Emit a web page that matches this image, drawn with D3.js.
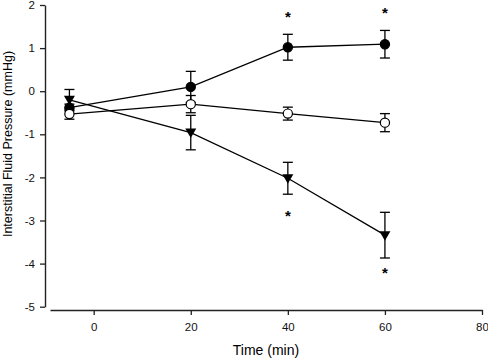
<!DOCTYPE html>
<html>
<head>
<meta charset="utf-8">
<script src="https://cdn.jsdelivr.net/npm/d3@7"></script>
<style>
  body { margin: 0; background: #fff; }
  svg { display: block; font-family: "Liberation Sans", Arial, sans-serif; }
</style>
</head>
<body>
<svg id="chart" width="488" height="361"></svg>
<script>
// time points (min)
const times = [-5, 20, 40, 60];

// filled circles
const filledMean = [-0.38, 0.10, 1.02, 1.09];
const filledErr  = [0.08, 0.36, 0.30, 0.32];
// open circles
const openMean = [-0.53, -0.30, -0.52, -0.73];
const openErr  = [0.12, 0.20, 0.15, 0.21];
// triangles
const triMean = [-0.20, -0.96, -2.02, -3.34];
const triErr  = [0.24, 0.40, 0.37, 0.53];

// significance marks: [time, value]
const stars = [[40, 1.76], [60, 1.87], [40, -2.86], [60, -4.18]];

const xTicks = [0, 20, 40, 60, 80];
const yTicks = [-5, -4, -3, -2, -1, 0, 1, 2];

const svg = d3.select('#chart');

const x = d3.scaleLinear().domain([-9, 80]).range([50, 482]);
const y = d3.scaleLinear().domain([-5, 2]).range([306.7, 5]);

// axes (SigmaPlot style, detached)
const yAxis = svg.append('g')
  .attr('transform', 'translate(45,0)')
  .call(d3.axisLeft(y).tickValues(yTicks).tickSize(5).tickSizeOuter(0).tickPadding(5)
    .tickFormat(d => d < 0 ? '-' + Math.abs(d) : d));
const xAxis = svg.append('g')
  .attr('transform', 'translate(0,310)')
  .call(d3.axisBottom(x).tickValues(xTicks).tickSize(5).tickSizeOuter(0).tickPadding(8));

[yAxis, xAxis].forEach(a => {
  a.select('.domain').attr('stroke', '#222').attr('stroke-width', 1.4);
  a.selectAll('.tick line').attr('stroke', '#222').attr('stroke-width', 1.3);
  a.selectAll('.tick text').attr('fill', '#111').style('font-size', '11.5px')
    .style('font-family', '"Liberation Sans", Arial, sans-serif');
});

// axis titles
svg.append('text')
  .attr('x', 266).attr('y', 355)
  .attr('text-anchor', 'middle')
  .style('font-size', '14px')
  .text('Time (min)');

svg.append('text')
  .attr('transform', 'translate(12,144) rotate(-90)')
  .attr('text-anchor', 'middle')
  .style('font-size', '12.5px')
  .text('Interstitial Fluid Pressure (mmHg)');

const series = [
  { mean: filledMean, err: filledErr, shape: 'filled' },
  { mean: openMean, err: openErr, shape: 'open' },
  { mean: triMean, err: triErr, shape: 'tri' }
];

const line = d3.line().x(d => x(d[0])).y(d => y(d[1]));

const plot = svg.append('g');

// connecting lines
series.forEach(s => {
  const pts = times.map((t, i) => [t, s.mean[i]]);
  plot.append('path')
    .attr('d', line(pts))
    .attr('fill', 'none')
    .attr('stroke', '#000')
    .attr('stroke-width', 1.3);
});

// error bars
const capW = 5;
series.forEach(s => {
  const eb = plot.append('g');
  times.forEach((t, i) => {
    const lo = y(s.mean[i] - s.err[i]);
    const hi = y(s.mean[i] + s.err[i]);
    const cx = x(t);
    eb.append('line').attr('x1', cx).attr('x2', cx).attr('y1', lo).attr('y2', hi)
      .attr('stroke', '#000').attr('stroke-width', 1.3);
    [lo, hi].forEach(v => {
      eb.append('line').attr('x1', cx - capW).attr('x2', cx + capW).attr('y1', v).attr('y2', v)
        .attr('stroke', '#000').attr('stroke-width', 1.3);
    });
  });
});

// markers
series.forEach(s => {
  const mg = plot.append('g');
  times.forEach((t, i) => {
    const cx = x(t), cy = y(s.mean[i]);
    if (s.shape === 'tri') {
      mg.append('path')
        .attr('d', `M${cx - 5.5},${cy - 4}L${cx + 5.5},${cy - 4}L${cx},${cy + 5.5}Z`)
        .attr('fill', '#000');
    } else {
      mg.append('circle')
        .attr('cx', cx).attr('cy', cy).attr('r', 4.6)
        .attr('fill', s.shape === 'open' ? '#fff' : '#000')
        .attr('stroke', '#000').attr('stroke-width', 1.2);
    }
  });
});

// asterisks
plot.selectAll('text.star')
  .data(stars)
  .enter().append('text')
  .attr('class', 'star')
  .attr('x', d => x(d[0]))
  .attr('y', d => y(d[1]) + 7)
  .attr('text-anchor', 'middle')
  .style('font-size', '15px')
  .style('font-weight', 'bold')
  .text('*');
</script>
</body>
</html>
